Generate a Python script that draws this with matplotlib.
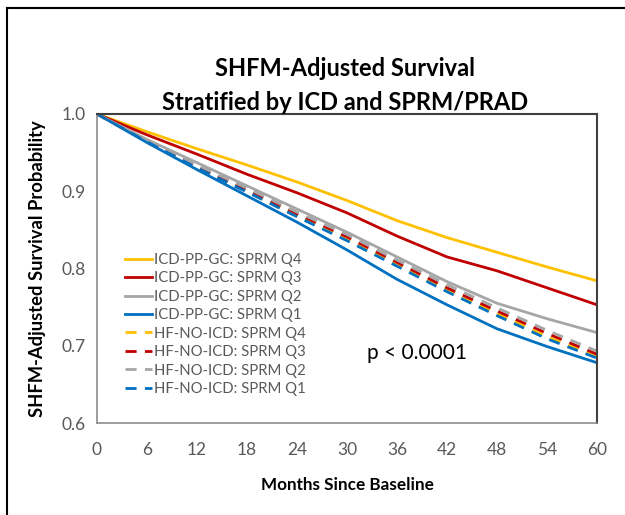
import matplotlib
matplotlib.use("Agg")
import matplotlib.pyplot as plt
from matplotlib.lines import Line2D

months = [0, 6, 12, 18, 24, 30, 36, 42, 48, 54, 60]

icd_q4 = [1.0, 0.977, 0.955, 0.934, 0.912, 0.888, 0.862, 0.840, 0.821, 0.802, 0.784]
icd_q3 = [1.0, 0.973, 0.948, 0.922, 0.898, 0.872, 0.842, 0.815, 0.797, 0.775, 0.753]
icd_q2 = [1.0, 0.967, 0.937, 0.907, 0.877, 0.847, 0.815, 0.783, 0.755, 0.735, 0.717]
icd_q1 = [1.0, 0.963, 0.928, 0.894, 0.860, 0.824, 0.786, 0.753, 0.722, 0.699, 0.678]
hf_q4 = [1.0, 0.965, 0.931, 0.900, 0.869, 0.839, 0.806, 0.773, 0.742, 0.712, 0.686]
hf_q3 = [1.0, 0.965, 0.932, 0.902, 0.871, 0.841, 0.808, 0.775, 0.745, 0.716, 0.689]
hf_q2 = [1.0, 0.966, 0.934, 0.904, 0.873, 0.844, 0.811, 0.779, 0.749, 0.720, 0.693]
hf_q1 = [1.0, 0.964, 0.930, 0.899, 0.867, 0.836, 0.803, 0.770, 0.739, 0.709, 0.684]

labels = ["ICD-PP-GC: SPRM Q4", "ICD-PP-GC: SPRM Q3", "ICD-PP-GC: SPRM Q2", "ICD-PP-GC: SPRM Q1",
          "HF-NO-ICD: SPRM Q4", "HF-NO-ICD: SPRM Q3", "HF-NO-ICD: SPRM Q2", "HF-NO-ICD: SPRM Q1"]
series = [icd_q4, icd_q3, icd_q2, icd_q1, hf_q4, hf_q3, hf_q2, hf_q1]
colors = ["#FFC000", "#C00000", "#A6A6A6", "#0070C0"] * 2
styles = ["-"] * 4 + [(0, (4, 3))] * 4

plt.rcParams['font.family'] = ['Lato', 'DejaVu Sans']

fig = plt.figure(figsize=(6.25, 5.15), dpi=100)
ax = fig.add_axes([97/625, 1 - 423/515, 500/625, 309/515])

for s, lab, c, ls in zip(series, labels, colors, styles):
    ax.plot(months, s, color=c, linestyle=ls, linewidth=2.0, label=lab)

ax.set_xlim(0, 60)
ax.set_ylim(0.6, 1.0)
ax.set_xticks(range(0, 61, 6))
ax.set_yticks([0.6, 0.7, 0.8, 0.9, 1.0])
ax.set_yticklabels(["0.6", "0.7", "0.8", "0.9", "1.0"])
ax.tick_params(axis='both', length=0, labelsize=12.5, labelcolor="#595959", pad=8)
ax.tick_params(axis='x', pad=14)

for sp in ['left', 'bottom']:
    ax.spines[sp].set_color("#8C8C8C")
    ax.spines[sp].set_linewidth(1.2)
for sp in ['top', 'right']:
    ax.spines[sp].set_color("#404040")
    ax.spines[sp].set_linewidth(1.5)

ax.set_xlabel("Months Since Baseline", fontsize=12.3, fontweight='bold', color='black', labelpad=13)
ax.set_ylabel("SHFM-Adjusted Survival Probability", fontsize=13.2, fontweight='bold', color='black', labelpad=11)

leg = ax.legend(loc='upper left', bbox_to_anchor=(0.045, 0.57), frameon=False, fontsize=10.7,
                handlelength=1.8, handletextpad=0.15, labelspacing=0.3, borderaxespad=0)
for t in leg.get_texts():
    t.set_color("#595959")

ax.text(32.4, 0.69, "p < 0.0001", fontsize=15, color='black', va='center', ha='left')

fig.text(0.552, 1 - 68/515, "SHFM-Adjusted Survival", ha='center', va='center',
         fontsize=17, fontweight='bold', color='black')
fig.text(0.552, 1 - 102/515, "Stratified by ICD and SPRM/PRAD", ha='center', va='center',
         fontsize=17, fontweight='bold', color='black')

fig.add_artist(Line2D([7/625, 1.0], [1 - 8/515, 1 - 8/515], transform=fig.transFigure, color='black', linewidth=1.5))
fig.add_artist(Line2D([7/625, 7/625], [0, 1 - 8/515], transform=fig.transFigure, color='black', linewidth=1.5))

fig.savefig("out.png", dpi=100)
